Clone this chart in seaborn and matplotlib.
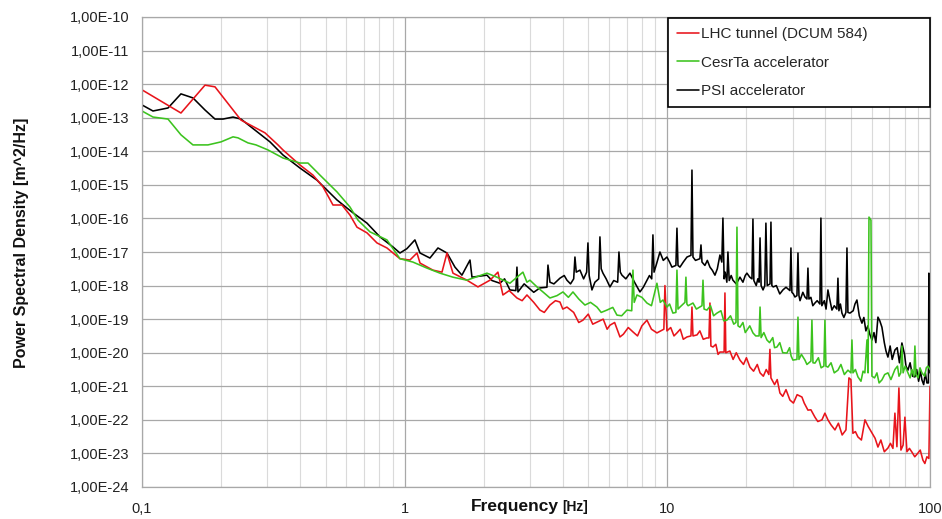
import numpy as np
import pandas as pd
import matplotlib
matplotlib.use("Agg")
import matplotlib.pyplot as plt
import seaborn as sns
from matplotlib.ticker import FixedLocator, FixedFormatter, NullLocator, NullFormatter

# ---------------- data ----------------
series_names = ["LHC tunnel (DCUM 584)", "CesrTa accelerator", "PSI accelerator"]

lhc_freq = [0.100, 0.1407, 0.1737, 0.1896, 0.2381, 0.2938, 0.3294, 0.3441, 0.3996, 0.4477,
            0.4887, 0.5334, 0.5772, 0.6191, 0.6583, 0.7187, 0.7845, 0.8561, 0.9596, 1.047,
            1.114, 1.144, 1.281, 1.387, 1.449, 1.527, 1.726, 1.901, 2.112, 2.265,
            2.366, 2.676, 2.921, 3.273, 3.574, 3.901, 4.148, 4.773, 5.395, 6.047,
            6.601, 7.398, 8.364, 9.129, 9.70, 9.792, 9.966, 10.88, 11.88, 12.30,
            12.41, 12.52, 12.97, 14.15, 14.40, 14.53, 14.65, 14.92, 15.86, 16.45,
            16.57, 16.70, 18.90, 20.63, 22.54, 24.35, 24.58, 24.80, 26.83, 29.29,
            32.54, 34.30, 36.47, 38.78, 40.87, 43.46, 47.86, 49.14, 50.0, 50.88,
            53.17, 56.54, 60.12, 63.36, 69.15, 72.25, 73.52, 74.82, 76.14, 77.5,
            80.25, 81.68, 85.34, 89.95, 93.98, 97.32, 99.04, 100.0]
lhc_log10_psd = [-12.17, -12.86, -12.03, -12.08, -13.07, -13.45, -13.81, -13.96, -14.41, -14.71,
                 -15.06, -15.60, -15.60, -15.90, -16.26, -16.43, -16.73, -16.88, -17.20, -17.24,
                 -17.03, -17.33, -17.54, -17.60, -17.03, -17.63, -17.84, -18.04, -17.84, -17.60,
                 -18.28, -18.37, -18.28, -18.73, -18.58, -18.49, -18.64, -19.03, -19.09, -19.18,
                 -19.53, -19.38, -19.03, -19.41, -19.30, -18.00, -19.35, -19.41, -19.53, -19.50,
                 -18.64, -19.50, -19.47, -19.56, -19.56, -18.52, -19.80, -19.83, -19.98, -19.98,
                 -18.22, -20.00, -20.22, -20.43, -20.60, -20.65, -19.90, -20.75, -21.20, -21.41,
                 -21.32, -21.71, -21.92, -22.00, -22.00, -22.30, -22.30, -20.75, -20.80, -22.40,
                 -22.51, -22.00, -22.39, -22.81, -22.84, -22.85, -21.80, -22.80, -21.05, -22.90,
                 -21.92, -22.95, -22.96, -22.99, -23.20, -23.10, -23.15, -21.00]
# extra readings of the noise band (upper / lower edges of the fuzz)
lhc_band_freq = [2.5, 2.8, 3.1, 3.4, 3.75, 4.0, 4.4, 4.6, 5.0, 5.2,
                 5.7, 5.9, 6.3, 6.8, 7.1, 7.7, 8.0, 8.7, 10.3, 10.6,
                 11.2, 11.5, 13.3, 13.7, 15.3, 15.6, 17.3, 17.8, 18.3, 19.5,
                 20.0, 21.3, 22.0, 23.2, 23.8, 25.6, 26.2, 27.5, 28.3, 30.2,
                 31.2, 33.2, 35.2, 37.4, 39.8, 42.0, 44.8, 46.3, 52.0, 54.8,
                 58.2, 61.8, 65.0, 67.0, 70.7, 79.0, 83.5, 87.5, 91.8, 95.6]
lhc_band_log10_psd = [-18.15, -18.45, -18.50, -18.80, -18.45, -18.70, -18.80, -19.10, -18.85, -19.15,
                      -19.00, -19.30, -19.10, -19.45, -19.25, -19.50, -19.20, -19.30, -19.25, -19.50,
                      -19.30, -19.60, -19.35, -19.60, -19.75, -20.05, -19.95, -20.20, -20.00, -20.35,
                      -20.15, -20.55, -20.35, -20.70, -20.50, -20.95, -20.80, -21.30, -21.10, -21.50,
                      -21.25, -21.50, -21.70, -22.05, -21.80, -22.15, -22.10, -22.45, -22.35, -22.60,
                      -22.20, -22.55, -22.60, -22.95, -22.70, -22.75, -22.85, -23.10, -22.90, -23.30]

cesr_freq = [0.100, 0.1101, 0.1256, 0.1407, 0.1563, 0.1783, 0.1999, 0.2221, 0.2320, 0.2532,
             0.2716, 0.3017, 0.3441, 0.3996, 0.4284, 0.4760, 0.5525, 0.6191, 0.6641, 0.7378,
             0.8561, 0.9596, 1.075, 1.216, 1.363, 1.527, 1.726, 2.057, 2.245, 2.516,
             2.820, 2.921, 2.999, 3.361, 3.574, 4.005, 4.372, 4.857, 5.395, 5.890,
             6.429, 7.019, 7.32, 7.398, 7.48, 7.662, 8.364, 9.129, 9.622, 9.966,
             10.50, 10.78, 10.88, 10.98, 11.17, 11.67, 11.77, 11.87, 12.52, 13.55,
             13.67, 13.80, 14.15, 15.45, 16.86, 18.25, 18.41, 18.58, 18.90, 20.09,
             21.18, 22.35, 22.54, 22.75, 23.94, 26.14, 28.53, 30.07, 31.15, 31.43,
             31.70, 33.41, 35.20, 35.52, 35.85, 36.47, 39.45, 39.81, 40.15, 40.87,
             44.62, 48.71, 50.0, 50.45, 50.9, 53.17, 56.5, 57.55, 58.1, 58.57,
             59.60, 60.1, 61.5, 65.61, 69.15, 73.52, 77.4, 78.17, 79.0, 82.39,
             86.8, 87.61, 88.4, 93.16, 98.18, 100.0]
cesr_log10_psd = [-12.80, -12.98, -13.04, -13.51, -13.81, -13.81, -13.72, -13.57, -13.60, -13.75,
                  -13.81, -13.96, -14.20, -14.35, -14.35, -14.71, -15.21, -15.66, -16.05, -16.40,
                  -16.64, -17.20, -17.30, -17.48, -17.63, -17.75, -17.84, -17.63, -17.75, -17.93,
                  -17.60, -17.90, -17.84, -18.19, -18.37, -18.19, -18.19, -18.58, -18.64, -18.73,
                  -18.88, -18.73, -18.75, -17.54, -18.50, -18.28, -18.52, -17.93, -18.43, -18.64,
                  -18.82, -18.80, -17.54, -18.70, -18.64, -18.50, -17.75, -18.55, -18.52, -18.60,
                  -17.84, -18.70, -18.73, -18.82, -19.03, -19.10, -16.26, -19.20, -19.24, -19.33,
                  -19.41, -19.50, -18.64, -19.55, -19.62, -19.83, -20.01, -20.22, -20.20, -18.94,
                  -20.20, -20.22, -20.25, -19.03, -20.30, -20.31, -20.40, -19.03, -20.40, -20.43,
                  -20.52, -20.52, -20.60, -19.62, -20.60, -20.72, -20.60, -19.62, -20.60, -15.96,
                  -16.05, -20.70, -20.75, -20.81, -20.60, -20.50, -20.60, -19.80, -20.60, -20.60,
                  -20.70, -19.80, -20.65, -20.60, -20.40, -20.50]
cesr_band_freq = [3.2, 3.8, 4.2, 4.6, 5.1, 5.6, 6.2, 6.7, 8.0, 8.7,
                  9.4, 10.2, 12.0, 12.9, 14.6, 15.0, 16.0, 16.4, 17.4, 17.9,
                  19.4, 19.8, 20.6, 21.7, 23.3, 24.5, 25.2, 25.6, 26.8, 27.5,
                  29.2, 29.6, 32.4, 34.0, 37.6, 38.5, 42.0, 43.2, 45.8, 47.2,
                  52.0, 54.6, 55.6, 62.8, 64.0, 67.2, 71.0, 75.2, 76.2, 80.4,
                  84.0, 85.3, 90.0, 91.6, 95.4, 96.8]
cesr_band_log10_psd = [-18.05, -18.30, -18.35, -18.40, -18.50, -18.80, -18.65, -18.90, -18.35, -18.60,
                       -18.50, -18.55, -18.60, -18.70, -18.60, -18.90, -18.75, -19.05, -18.90, -19.15,
                       -19.10, -19.40, -19.20, -19.50, -19.40, -19.70, -19.55, -19.85, -19.70, -20.00,
                       -19.85, -20.10, -20.05, -20.35, -20.15, -20.45, -20.30, -20.60, -20.35, -20.65,
                       -20.50, -20.85, -20.55, -20.60, -20.90, -20.65, -20.80, -20.40, -20.70, -20.40,
                       -20.75, -20.50, -20.75, -20.45, -20.70, -20.45]

psi_freq = [0.100, 0.1101, 0.1256, 0.1407, 0.1563, 0.1737, 0.1896, 0.2034, 0.2221, 0.2381,
            0.2692, 0.3071, 0.3441, 0.3996, 0.4636, 0.5525, 0.6301, 0.7187, 0.8053, 0.9026,
            0.9596, 1.020, 1.094, 1.144, 1.248, 1.339, 1.449, 1.554, 1.652, 1.773,
            1.804, 2.057, 2.305, 2.516, 2.65, 2.676, 2.700, 2.999, 3.273, 3.48,
            3.512, 3.574, 3.901, 4.148, 4.40, 4.449, 4.50, 4.649, 4.93, 4.986,
            5.04, 5.164, 5.48, 5.539, 5.60, 5.687, 6.047, 6.47, 6.543, 6.62,
            6.718, 7.206, 7.866, 8.364, 8.72, 8.814, 8.90, 9.372, 9.966, 10.41,
            10.78, 10.88, 10.98, 11.17, 11.88, 12.30, 12.41, 12.52, 13.3, 13.43,
            13.55, 14.53, 15.18, 15.86, 16.12, 16.28, 16.45, 16.85, 17.01, 17.2,
            17.77, 18.90, 20.09, 21.0, 21.18, 21.35, 22.35, 22.54, 22.75, 23.14,
            23.5, 23.73, 24.0, 24.6, 24.80, 25.0, 25.3, 27.54, 29.3, 29.55,
            29.8, 30.60, 31.15, 31.43, 31.7, 33.41, 34.0, 34.30, 34.6, 36.47,
            38.1, 38.43, 38.75, 40.87, 42.33, 44.2, 44.62, 45.0, 46.21, 47.85,
            48.29, 48.7, 49.57, 52.70, 55.07, 60.12, 63.36, 65.61, 69.15, 73.52,
            78.17, 82.39, 87.61, 93.16, 97.32, 98.6, 99.04, 100.0]
psi_log10_psd = [-12.62, -12.80, -12.71, -12.29, -12.41, -12.77, -13.04, -13.04, -12.98, -13.04,
                 -13.37, -13.72, -14.11, -14.50, -14.86, -15.45, -15.81, -16.14, -16.55, -16.85,
                 -17.03, -16.90, -16.64, -17.03, -17.18, -16.88, -17.03, -17.45, -17.69, -17.24,
                 -17.75, -17.69, -17.93, -18.13, -18.15, -17.45, -18.19, -18.10, -18.07, -18.05,
                 -17.39, -17.90, -17.78, -17.84, -17.80, -17.15, -17.60, -17.54, -17.60, -16.73,
                 -17.70, -18.13, -17.80, -16.55, -17.50, -17.63, -18.04, -17.90, -17.00, -17.60,
                 -17.69, -17.63, -18.19, -17.84, -17.80, -16.49, -17.60, -17.00, -17.15, -17.45,
                 -17.40, -16.29, -17.40, -17.45, -17.15, -17.10, -14.56, -17.15, -17.20, -16.79,
                 -17.30, -17.45, -17.69, -17.09, -17.30, -15.99, -17.80, -17.90, -17.00, -17.85,
                 -17.84, -17.75, -17.63, -17.80, -16.02, -17.85, -17.90, -16.58, -18.00, -18.13,
                 -18.00, -16.14, -18.00, -17.95, -16.11, -18.00, -18.04, -18.13, -18.15, -16.88,
                 -18.20, -18.34, -18.30, -17.03, -18.30, -18.34, -18.40, -17.48, -18.40, -18.52,
                 -18.55, -15.99, -18.60, -18.13, -18.73, -18.70, -17.78, -18.75, -18.82, -18.80,
                 -16.88, -18.80, -18.82, -18.43, -19.12, -19.62, -18.94, -19.24, -20.13, -19.92,
                 -19.71, -20.52, -20.72, -20.81, -20.90, -20.90, -17.63, -20.60]
psi_band_freq = [2.15, 2.4, 2.85, 3.1, 3.7, 4.05, 4.28, 4.8, 5.3, 5.85,
                 6.25, 6.95, 7.5, 8.1, 8.55, 9.1, 9.65, 10.2, 11.5, 12.8,
                 13.9, 14.2, 14.85, 15.5, 16.6, 17.5, 18.3, 19.4, 19.8, 20.6,
                 21.8, 22.1, 26.0, 26.8, 28.3, 30.2, 32.0, 32.8, 35.2, 35.8,
                 37.2, 39.6, 40.2, 41.5, 43.2, 45.6, 47.0, 51.0, 51.8, 53.8,
                 56.0, 57.0, 58.0, 59.0, 61.2, 62.2, 64.4, 67.0, 68.0, 70.5,
                 71.8, 75.0, 76.5, 80.0, 81.0, 84.0, 85.8, 89.0, 90.5, 92.0,
                 94.6, 96.0]
psi_band_log10_psd = [-17.85, -17.80, -17.95, -18.20, -17.95, -17.70, -17.95, -17.80, -17.90, -17.80,
                      -17.85, -17.80, -17.90, -18.05, -17.70, -17.35, -17.25, -17.30, -17.30, -17.25,
                      -17.40, -17.25, -17.55, -17.50, -17.60, -17.70, -17.95, -17.90, -17.70, -17.75,
                      -18.00, -17.80, -18.00, -18.25, -18.05, -18.25, -18.45, -18.20, -18.35, -18.60,
                      -18.45, -18.45, -18.70, -18.40, -18.60, -18.55, -18.95, -18.75, -18.55, -18.90,
                      -18.95, -19.35, -19.20, -19.45, -19.40, -19.70, -19.05, -19.70, -19.95, -19.80,
                      -20.20, -19.85, -20.30, -20.05, -20.40, -20.30, -20.70, -20.50, -20.85, -20.55,
                      -20.95, -20.60]

x_tick_values = [0.1, 1, 10, 100]
x_tick_labels = ["0,1", "1", "10", "100"]
y_exponents = list(range(-24, -9))
y_tick_labels = ["1,00E-%02d" % (-e) for e in y_exponents]

colors = {"LHC tunnel (DCUM 584)": "#e8141b",
          "CesrTa accelerator": "#3cc31e",
          "PSI accelerator": "#000000"}

# ---------------- figure ----------------
sns.set_style("white")
plt.rcParams['font.family'] = ['Liberation Sans', 'DejaVu Sans']

W, H = 942, 519
fig = plt.figure(figsize=(W / 100, H / 100), dpi=100)
ax = fig.add_axes([142 / W, 1 - 487 / H, 788 / W, 470 / H])

frames = []
for name, f, e, bf, be in [
        ("LHC tunnel (DCUM 584)", lhc_freq, lhc_log10_psd, lhc_band_freq, lhc_band_log10_psd),
        ("CesrTa accelerator", cesr_freq, cesr_log10_psd, cesr_band_freq, cesr_band_log10_psd),
        ("PSI accelerator", psi_freq, psi_log10_psd, psi_band_freq, psi_band_log10_psd)]:
    freqs = list(f) + list(bf)
    exps = list(e) + list(be)
    frames.append(pd.DataFrame({"Frequency": freqs,
                                "PSD": np.power(10.0, np.array(exps)),
                                "Series": name}))
df = pd.concat(frames, ignore_index=True)
df = df.sort_values(["Series", "Frequency"], kind="mergesort").reset_index(drop=True)

draw_order = ["PSI accelerator", "LHC tunnel (DCUM 584)", "CesrTa accelerator"]
sns.lineplot(data=df, x="Frequency", y="PSD", hue="Series", hue_order=draw_order,
             palette=colors, estimator=None, sort=True, linewidth=1.15,
             legend=False, ax=ax)

ax.set_xscale("log")
ax.set_yscale("log")
ax.set_xlim(0.1, 100)
ax.set_ylim(1e-24, 1e-10)

ax.xaxis.set_major_locator(FixedLocator(x_tick_values))
ax.xaxis.set_major_formatter(FixedFormatter(x_tick_labels))
minor_x = [m * 10.0 ** d for d in (-1, 0, 1) for m in range(2, 10)]
ax.xaxis.set_minor_locator(FixedLocator(minor_x))
ax.xaxis.set_minor_formatter(NullFormatter())

ax.yaxis.set_major_locator(FixedLocator([10.0 ** e for e in y_exponents]))
ax.yaxis.set_major_formatter(FixedFormatter(y_tick_labels))
ax.yaxis.set_minor_locator(NullLocator())

ax.grid(which="major", axis="both", color="#a8a8a8", linewidth=0.9)
ax.grid(which="minor", axis="x", color="#dadada", linewidth=0.8)
ax.set_axisbelow(True)

for s in ax.spines.values():
    s.set_color("#a8a8a8")
    s.set_linewidth(0.9)

ax.tick_params(axis="x", which="both", length=0, pad=11, labelsize=10.5, colors="#222222")
ax.tick_params(axis="y", which="major", length=4, width=0.8, color="#a8a8a8",
               pad=5, labelsize=10.5, labelcolor="#222222")
ax.set_xlabel("")
ax.set_ylabel("")

# axis titles
fig.text(471 / W, 1 - 507 / H, "Frequency", fontsize=12.5, fontweight="bold",
         ha="left", va="center", color="#111111")
fig.text(562 / W, 1 - 507 / H, "[Hz]", fontsize=10, fontweight="bold",
         ha="left", va="center", color="#111111")
fig.text(22 / W, 1 - 243 / H, "Power Spectral Density [m^2/Hz]", fontsize=11.5,
         fontweight="bold", rotation=90, ha="center", va="center", color="#111111")

# legend
lines = ax.get_lines()
line_by_name = dict(zip(draw_order, lines))
handles = [line_by_name[n] for n in series_names]
leg = ax.legend(handles, series_names, loc="upper left",
                bbox_to_anchor=((668 - 142) / 788, 0.0, 262 / 788, 1 - 1 / 470),
                mode="expand", borderaxespad=0, frameon=True, fancybox=False,
                framealpha=1, edgecolor="black", fontsize=11, handlelength=1.4,
                handletextpad=0.15, labelspacing=0.95, borderpad=0.6)
leg.get_frame().set_linewidth(1.2)
leg.set_zorder(5)

fig.savefig("out.png", dpi=100, facecolor="white")
